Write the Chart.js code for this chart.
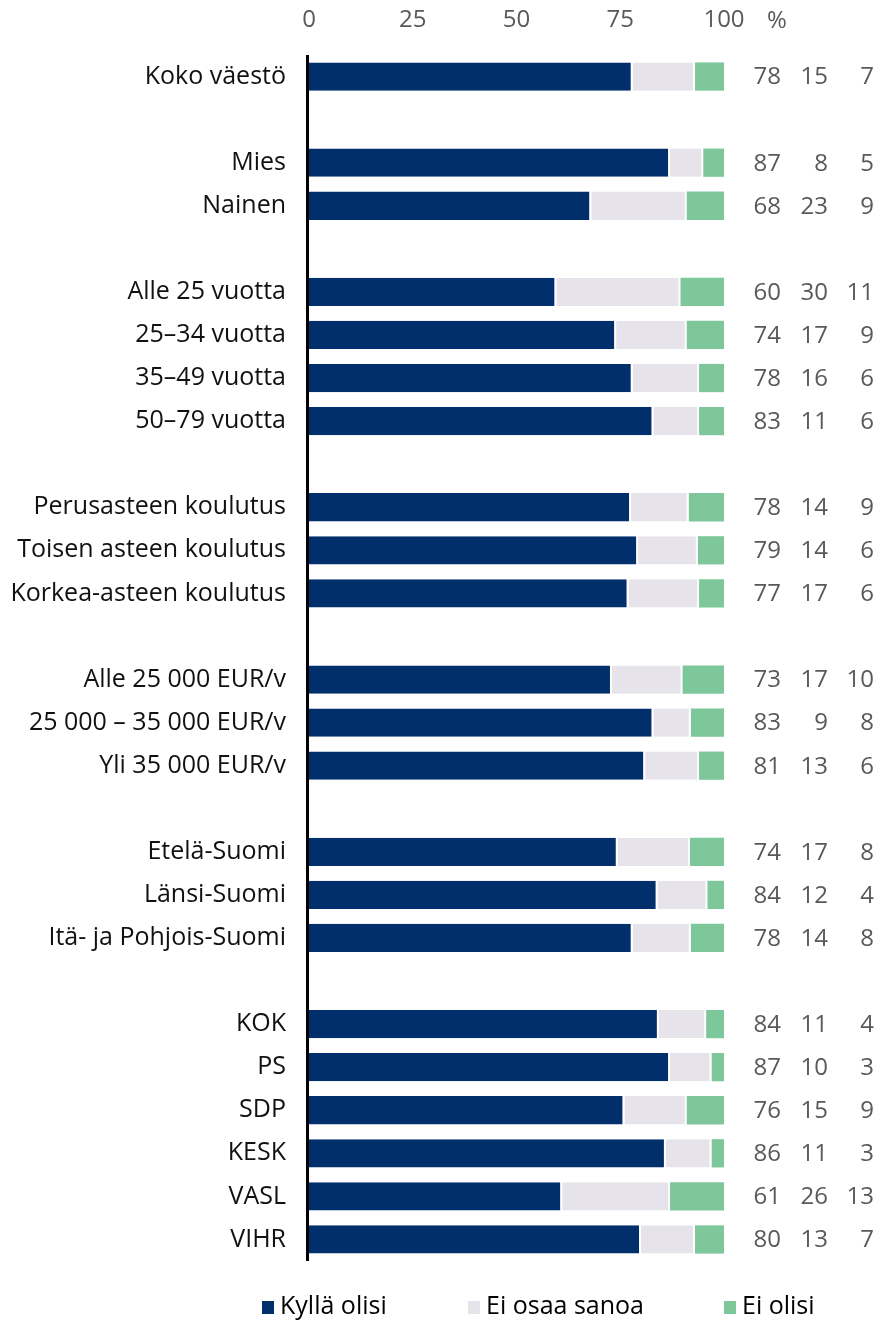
<!DOCTYPE html>
<html>
<head>
<meta charset="utf-8">
<script src="https://cdn.jsdelivr.net/npm/chart.js@4.4.1/dist/chart.umd.min.js"></script>
<style>
html,body{margin:0;padding:0;background:#fff;}
#wrap{width:879px;height:1323px;position:relative;}
</style>
</head>
<body>
<div id="wrap"><canvas id="c" width="879" height="1323"></canvas></div>
<script>
const categories = [
  "Koko väestö", "",
  "Mies", "Nainen", "",
  "Alle 25 vuotta", "25–34 vuotta", "35–49 vuotta", "50–79 vuotta", "",
  "Perusasteen koulutus", "Toisen asteen koulutus", "Korkea-asteen koulutus", "",
  "Alle 25 000 EUR/v", "25 000 – 35 000 EUR/v", "Yli 35 000 EUR/v", "",
  "Etelä-Suomi", "Länsi-Suomi", "Itä- ja Pohjois-Suomi", "",
  "KOK", "PS", "SDP", "KESK", "VASL", "VIHR"
];
const kyllaOlisi = [78,null, 87,68,null, 59.6,74,78,83,null, 77.6,79.3,77,null, 73,83,81,null, 74.4,84,78,null, 84.3,87,76,86,61,80];
const eiOsaaSanoa = [15,null, 8,23,null, 29.9,17,16,11,null, 13.9,14.4,17,null, 17,9,13,null, 17.4,12,14,null, 11.4,10,15,11,26,13];
const eiOlisi = [7,null, 5,9,null, 10.5,9,6,6,null, 8.5,6.3,6,null, 10,8,6,null, 8.2,4,8,null, 4.3,3,9,3,13,7];
const seriesNames = ["Kyllä olisi", "Ei osaa sanoa", "Ei olisi"];
const xTicks = [0,25,50,75,100];

const COLORS = ["#002f6b", "#e6e4ea", "#7dc79a"];
const FONT = "'Open Sans', sans-serif";

const extras = {
  id: 'extras',
  afterDraw(chart) {
    const ctx = chart.ctx;
    const y = chart.scales.y;
    const area = chart.chartArea;
    ctx.save();
    // axis line
    ctx.fillStyle = '#000';
    ctx.fillRect(area.left - 3, area.top, 3, area.bottom - area.top);
    // value labels
    ctx.font = "24px " + FONT;
    ctx.fillStyle = '#595959';
    ctx.textAlign = 'right';
    ctx.textBaseline = 'middle';
    const cols = [781, 828, 874];
    const sets = [kyllaOlisi, eiOsaaSanoa, eiOlisi];
    categories.forEach((c, i) => {
      if (sets[0][i] == null) return;
      const yy = y.getPixelForValue(i);
      sets.forEach((s, k) => ctx.fillText(String(Math.round(s[i])), cols[k], yy + 1));
    });
    // percent sign
    ctx.textAlign = 'left';
    ctx.fillText('%', 767, 21);
    // legend
    ctx.font = "25px " + FONT;
    const lx = [262, 468, 724];
    seriesNames.forEach((n, k) => {
      ctx.fillStyle = COLORS[k];
      ctx.fillRect(lx[k], 1301, 12, 13);
      ctx.fillStyle = '#000';
      ctx.textAlign = 'left';
      ctx.fillText(n, lx[k] + 18, 1307);
    });
    ctx.restore();
  }
};

new Chart(document.getElementById('c'), {
  type: 'bar',
  data: {
    labels: categories,
    datasets: [
      { label: seriesNames[0], data: kyllaOlisi, backgroundColor: COLORS[0], borderColor: '#fff', borderWidth: {left:0,top:0,bottom:0,right:2}, borderSkipped: false },
      { label: seriesNames[1], data: eiOsaaSanoa, backgroundColor: COLORS[1], borderColor: '#fff', borderWidth: {left:0,top:0,bottom:0,right:2}, borderSkipped: false },
      { label: seriesNames[2], data: eiOlisi, backgroundColor: COLORS[2], borderWidth: 0 }
    ]
  },
  options: {
    indexAxis: 'y',
    responsive: false,
    animation: false,
    devicePixelRatio: 1,
    barPercentage: 0.82,
    categoryPercentage: 0.8,
    layout: { padding: { left: 0, right: 155, top: 0, bottom: 62 } },
    plugins: { legend: { display: false }, tooltip: { enabled: false } },
    scales: {
      x: {
        position: 'top', stacked: true, min: 0, max: 100,
        afterBuildTicks(s) { s.ticks = xTicks.map(v => ({ value: v })); },
        afterFit(s) { s.height = 55; },
        grid: { display: false, drawTicks: false },
        border: { display: false },
        ticks: { font: { family: FONT, size: 24 }, color: '#595959', padding: 20 }
      },
      y: {
        stacked: true,
        afterFit(s) { s.width = 309; },
        grid: { display: false, drawTicks: false },
        border: { display: false },
        ticks: { font: { family: FONT, size: 25 }, color: '#111111', padding: 23, autoSkip: false }
      }
    }
  },
  plugins: [extras]
});
</script>
</body>
</html>
